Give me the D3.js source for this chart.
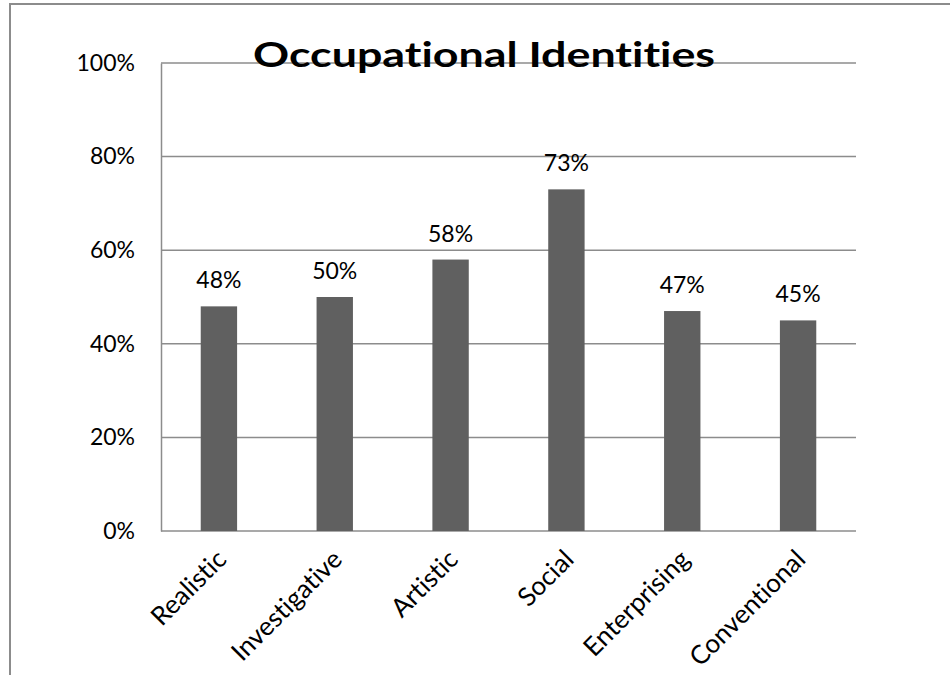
<!DOCTYPE html>
<html><head><meta charset="utf-8">
<script src="https://cdn.jsdelivr.net/npm/d3@7"></script>
<style>body{margin:0;background:#fff}svg{display:block}text{font-variant-ligatures:none;font-feature-settings:"liga" 0,"dlig" 0}</style>
</head><body>
<svg id="c" width="950" height="675"></svg>
<script>
const categories = ["Realistic","Investigative","Artistic","Social","Enterprising","Conventional"];
const values = [0.48,0.50,0.58,0.73,0.47,0.45];
const yTicks = [0,0.2,0.4,0.6,0.8,1.0];
const title = "Occupational Identities";

const svg = d3.select("#c");
const F = "Lato, 'Open Sans', sans-serif";
const m = {l:161, r:856, t:63, b:531};
const x = d3.scaleBand().domain(categories).range([m.l,m.r]).paddingInner(0.686).paddingOuter(0.343);
const y = d3.scaleLinear().domain([0,1]).range([m.b,m.t]);

// chart border (top and left visible)
svg.append("path").attr("d","M10,675V4H950").attr("fill","none").attr("stroke","#8c8c8c").attr("stroke-width",2);

// gridlines
svg.append("g").selectAll("line").data(yTicks).join("line")
  .attr("x1",m.l).attr("x2",m.r).attr("y1",d=>y(d)).attr("y2",d=>y(d))
  .attr("stroke","#8c8c8c").attr("stroke-width",1.5);

// y axis
const ya = svg.append("g").attr("transform",`translate(${m.l},0)`)
  .call(d3.axisLeft(y).tickValues(yTicks).tickFormat(d3.format(".0%")).tickSize(0).tickPadding(26));
ya.select(".domain").attr("stroke","#8c8c8c").attr("stroke-width",1.5);
ya.selectAll("text").attr("font-family",F).attr("font-size",23).attr("fill","#000");

// bars
svg.append("g").selectAll("rect").data(values).join("rect")
  .attr("x",(d,i)=>x(categories[i])).attr("width",x.bandwidth())
  .attr("y",d=>y(d)).attr("height",d=>y(0)-y(d))
  .attr("fill","#606060");

// data labels
svg.append("g").selectAll("text").data(values).join("text")
  .attr("x",(d,i)=>x(categories[i])+x.bandwidth()/2).attr("y",d=>y(d)-18)
  .attr("text-anchor","middle").attr("font-family",F).attr("font-size",23).attr("fill","#000")
  .text(d=>d3.format(".0%")(d));

// x axis
const xa = svg.append("g").attr("transform",`translate(0,${m.b})`)
  .call(d3.axisBottom(x).tickSize(0).tickPadding(0));
xa.select(".domain").remove();
xa.selectAll("text").attr("font-family",F).attr("font-size",26).attr("fill","#000")
  .attr("text-anchor","end").attr("dy",0)
  .attr("transform","translate(9,30) rotate(-45)");

// title
svg.append("text").attr("x",484).attr("y",67).attr("text-anchor","middle")
  .attr("font-family",F).attr("font-weight","bold").attr("font-size",35).attr("fill","#000")
  .attr("textLength",462).attr("lengthAdjust","spacingAndGlyphs").text(title);
</script>
</body></html>
